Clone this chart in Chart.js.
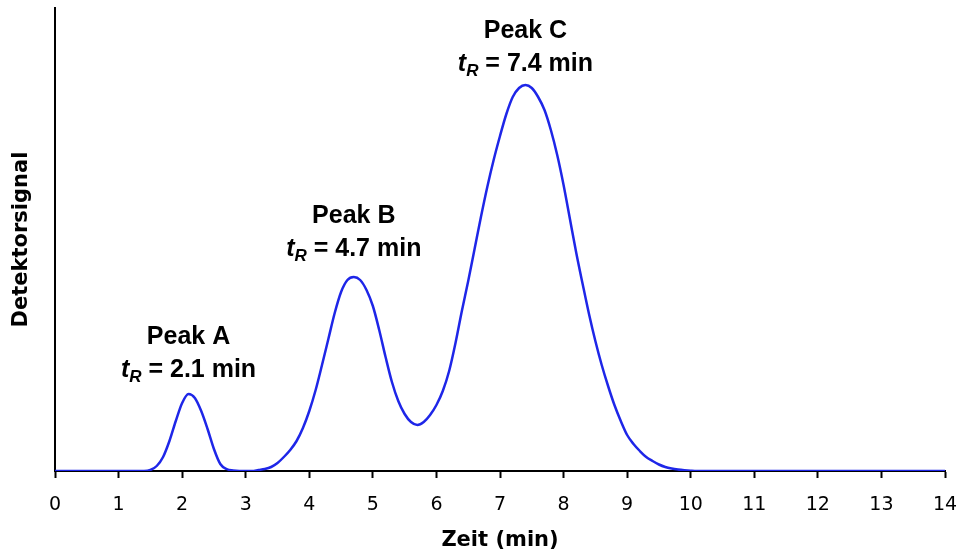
<!DOCTYPE html>
<html>
<head>
<meta charset="utf-8">
<script src="https://cdn.jsdelivr.net/npm/chart.js@4.4.1/dist/chart.umd.min.js"></script>
<style>
  html, body { margin: 0; padding: 0; background: #fff; }
  #wrap { width: 960px; height: 553px; }
</style>
</head>
<body>
<div id="wrap"><canvas id="chromChart" width="960" height="553"></canvas></div>
<script>
// Zeit (min) und Detektorsignal
const zeit = [
    0, 1.0, 1.4, 1.5, 1.6, 1.7, 1.8, 1.9, 2.0, 2.1, 2.2, 2.3, 2.4, 2.5, 2.6, 2.7, 2.8, 2.9,
    3.0, 3.1, 3.2, 3.3, 3.4, 3.5, 3.6, 3.7, 3.8, 3.9, 4.0, 4.1, 4.2, 4.3, 4.4, 4.5, 4.6, 4.7,
    4.8, 4.9, 5.0, 5.1, 5.2, 5.3, 5.4, 5.5, 5.6, 5.7, 5.8, 5.9, 6.0, 6.1, 6.2, 6.3, 6.4, 6.5,
    6.6, 6.7, 6.8, 6.9, 7.0, 7.1, 7.2, 7.3, 7.4, 7.5, 7.6, 7.7, 7.8, 7.9, 8.0, 8.1, 8.2, 8.3,
    8.4, 8.5, 8.6, 8.7, 8.8, 8.9, 9.0, 9.1, 9.2, 9.3, 9.4, 9.5, 9.6, 9.7, 9.8, 9.9, 10.0, 10.1,
    11, 12, 13, 14
];
const signal = [
    0, 0, 0, 1, 5, 14, 30, 50, 68, 77, 73, 60, 42, 22, 7, 2, 0.5, 0,
    0, 0, 1, 2, 4, 8, 14, 21, 30, 43, 60, 81, 106, 132, 158, 179, 191, 194,
    191, 181, 165, 141, 114, 89, 70, 57, 49, 46, 49, 56, 66, 80, 100, 128, 160, 190,
    222, 254, 284, 311, 335, 357, 374, 383, 386, 383, 374, 361, 341, 316, 286, 252, 218, 187,
    157, 130, 106, 85, 66, 50, 36, 27, 20, 14, 10, 6.5, 4, 2.5, 1.5, 0.8, 0.3, 0,
    0, 0, 0, 0
];
const zeitTicks = [0, 1, 2, 3, 4, 5, 6, 7, 8, 9, 10, 11, 12, 13, 14];
const peakNamen = ['Peak A', 'Peak B', 'Peak C'];
const peakZeiten = [2.1, 4.7, 7.4];

// Abstand der Beschriftung über der Peakspitze (px)
const labelAbstand = [24, 28, 21];

const punkte = zeit.map((t, i) => ({ x: t, y: signal[i] }));

// Beschriftung der Peaks: "Peak X" und "tR = ... min"
const peakLabels = {
    id: 'peakLabels',
    afterDatasetsDraw(chart) {
        const { ctx, scales: { x, y } } = chart;
        ctx.save();
        ctx.fillStyle = '#000';
        ctx.textBaseline = 'middle';
        peakNamen.forEach((name, i) => {
            const tR = peakZeiten[i];
            const idx = zeit.indexOf(tR);
            const px = x.getPixelForValue(tR);
            const py = y.getPixelForValue(signal[idx]);
            const y2 = py - labelAbstand[i];
            const y1 = y2 - 33;

            ctx.font = 'bold 25px "Liberation Sans", Arial, sans-serif';
            ctx.textAlign = 'center';
            ctx.fillText(name, px, y1);

            const fT = 'italic bold 25px "Liberation Sans", Arial, sans-serif';
            const fR = 'italic bold 17px "Liberation Sans", Arial, sans-serif';
            const fRest = 'bold 25px "Liberation Sans", Arial, sans-serif';
            const rest = ' = ' + tR.toFixed(1) + ' min';
            ctx.font = fT; const wT = ctx.measureText('t').width;
            ctx.font = fR; const wR = ctx.measureText('R').width;
            ctx.font = fRest; const wRest = ctx.measureText(rest).width;
            let cx = px - (wT + wR + wRest) / 2;
            ctx.textAlign = 'left';
            ctx.font = fT; ctx.fillText('t', cx, y2); cx += wT;
            ctx.font = fR; ctx.fillText('R', cx, y2 + 7); cx += wR;
            ctx.font = fRest; ctx.fillText(rest, cx, y2);
        });
        ctx.restore();
    }
};

const chromChart = document.getElementById('chromChart');

new Chart(chromChart, {
    type: 'line',
    data: {
        datasets: [{
            label: 'Detektorsignal',
            data: punkte,
            borderColor: '#1e26e8',
            borderWidth: 2.5,
            pointRadius: 0,
            cubicInterpolationMode: 'monotone',
            fill: false
        }]
    },
    options: {
        responsive: false,
        animation: false,
        layout: { padding: { top: 8, right: 15, left: 0, bottom: 0 } },
        plugins: {
            legend: { display: false },
            tooltip: { enabled: false }
        },
        scales: {
            x: {
                type: 'linear',
                min: 0,
                max: 14,
                afterBuildTicks: (scale) => {
                    scale.ticks = zeitTicks.map(v => ({ value: v }));
                },
                afterFit: (scale) => {
                    scale.height = 82;
                    scale.paddingLeft = 0;
                    scale.paddingRight = 0;
                },
                border: { display: true, color: '#000', width: 2 },
                grid: {
                    drawOnChartArea: false,
                    drawTicks: true,
                    tickLength: 7,
                    tickWidth: 2,
                    tickColor: '#000'
                },
                ticks: {
                    color: '#000',
                    padding: 16,
                    maxRotation: 0,
                    font: { family: '"DejaVu Sans", Verdana, sans-serif', size: 19 }
                },
                title: {
                    display: true,
                    text: 'Zeit (min)',
                    color: '#000',
                    padding: { top: 0, bottom: 0 },
                    font: { family: '"DejaVu Sans", Verdana, sans-serif', size: 21, weight: 'bold' }
                }
            },
            y: {
                min: 0,
                max: 463,
                afterFit: (scale) => { scale.width = 55; },
                border: { display: true, color: '#000', width: 2 },
                grid: { display: false },
                ticks: { display: false },
                title: {
                    display: true,
                    text: 'Detektorsignal',
                    color: '#000',
                    padding: { top: 9, bottom: 0 },
                    font: { family: '"DejaVu Sans", Verdana, sans-serif', size: 21, weight: 'bold' }
                }
            }
        }
    },
    plugins: [peakLabels]
});
</script>
</body>
</html>
